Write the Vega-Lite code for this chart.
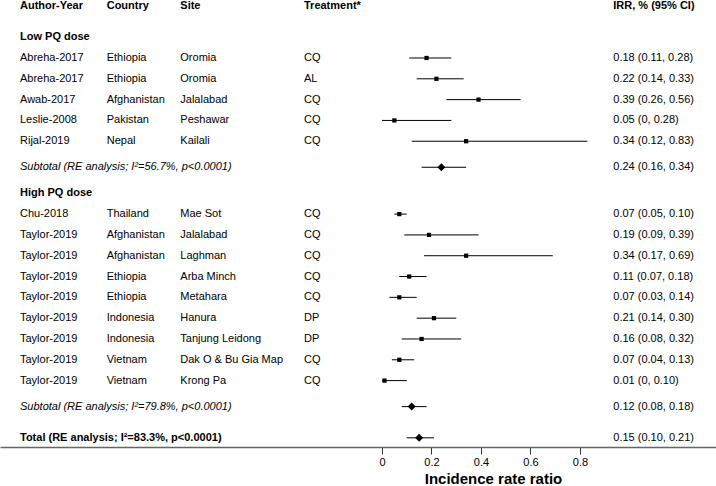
{
  "$schema": "https://vega.github.io/schema/vega-lite/v6.json",
  "width": 716,
  "height": 486,
  "autosize": {"type": "fit", "contains": "padding"},
  "padding": 0,
  "background": "white",
  "config": {
    "view": {"stroke": null},
    "font": "Liberation Sans",
    "text": {"font": "Liberation Sans", "fontSize": 11, "color": "black", "align": "left", "baseline": "middle"},
    "axisX": {
      "domainColor": "#666666",
      "domainWidth": 1.5,
      "tickColor": "#333333",
      "tickSize": 7,
      "tickWidth": 1,
      "grid": false,
      "labelFont": "Liberation Sans",
      "labelFontSize": 11,
      "labelColor": "black",
      "labelPadding": 2,
      "titleFont": "Liberation Sans",
      "titleFontSize": 15,
      "titleFontWeight": "bold",
      "titleColor": "black",
      "titlePadding": 4
    }
  },
  "data": {
    "values": [
      {"id": "lowhead", "kind": "group", "author": "Low PQ dose"},
      {"id": "r1", "kind": "study", "author": "Abreha-2017", "country": "Ethiopia", "site": "Oromia", "trt": "CQ", "est": 0.18, "lo": 0.11, "hi": 0.28, "ci": "0.18 (0.11, 0.28)"},
      {"id": "r2", "kind": "study", "author": "Abreha-2017", "country": "Ethiopia", "site": "Oromia", "trt": "AL", "est": 0.22, "lo": 0.14, "hi": 0.33, "ci": "0.22 (0.14, 0.33)"},
      {"id": "r3", "kind": "study", "author": "Awab-2017", "country": "Afghanistan", "site": "Jalalabad", "trt": "CQ", "est": 0.39, "lo": 0.26, "hi": 0.56, "ci": "0.39 (0.26, 0.56)"},
      {"id": "r4", "kind": "study", "author": "Leslie-2008", "country": "Pakistan", "site": "Peshawar", "trt": "CQ", "est": 0.05, "lo": 0, "hi": 0.28, "ci": "0.05 (0, 0.28)"},
      {"id": "r5", "kind": "study", "author": "Rijal-2019", "country": "Nepal", "site": "Kailali", "trt": "CQ", "est": 0.34, "lo": 0.12, "hi": 0.83, "ci": "0.34 (0.12, 0.83)"},
      {"id": "sub1", "kind": "subtotal", "author": "Subtotal (RE analysis; I²=56.7%, p<0.0001)", "est": 0.24, "lo": 0.16, "hi": 0.34, "ci": "0.24 (0.16, 0.34)"},
      {"id": "highhead", "kind": "group", "author": "High PQ dose"},
      {"id": "r6", "kind": "study", "author": "Chu-2018", "country": "Thailand", "site": "Mae Sot", "trt": "CQ", "est": 0.07, "lo": 0.05, "hi": 0.10, "ci": "0.07 (0.05, 0.10)"},
      {"id": "r7", "kind": "study", "author": "Taylor-2019", "country": "Afghanistan", "site": "Jalalabad", "trt": "CQ", "est": 0.19, "lo": 0.09, "hi": 0.39, "ci": "0.19 (0.09, 0.39)"},
      {"id": "r8", "kind": "study", "author": "Taylor-2019", "country": "Afghanistan", "site": "Laghman", "trt": "CQ", "est": 0.34, "lo": 0.17, "hi": 0.69, "ci": "0.34 (0.17, 0.69)"},
      {"id": "r9", "kind": "study", "author": "Taylor-2019", "country": "Ethiopia", "site": "Arba Minch", "trt": "CQ", "est": 0.11, "lo": 0.07, "hi": 0.18, "ci": "0.11 (0.07, 0.18)"},
      {"id": "r10", "kind": "study", "author": "Taylor-2019", "country": "Ethiopia", "site": "Metahara", "trt": "CQ", "est": 0.07, "lo": 0.03, "hi": 0.14, "ci": "0.07 (0.03, 0.14)"},
      {"id": "r11", "kind": "study", "author": "Taylor-2019", "country": "Indonesia", "site": "Hanura", "trt": "DP", "est": 0.21, "lo": 0.14, "hi": 0.30, "ci": "0.21 (0.14, 0.30)"},
      {"id": "r12", "kind": "study", "author": "Taylor-2019", "country": "Indonesia", "site": "Tanjung Leidong", "trt": "DP", "est": 0.16, "lo": 0.08, "hi": 0.32, "ci": "0.16 (0.08, 0.32)"},
      {"id": "r13", "kind": "study", "author": "Taylor-2019", "country": "Vietnam", "site": "Dak O & Bu Gia Map", "trt": "CQ", "est": 0.07, "lo": 0.04, "hi": 0.13, "ci": "0.07 (0.04, 0.13)"},
      {"id": "r14", "kind": "study", "author": "Taylor-2019", "country": "Vietnam", "site": "Krong Pa", "trt": "CQ", "est": 0.01, "lo": 0, "hi": 0.10, "ci": "0.01 (0, 0.10)"},
      {"id": "sub2", "kind": "subtotal", "author": "Subtotal (RE analysis; I²=79.8%, p<0.0001)", "est": 0.12, "lo": 0.08, "hi": 0.18, "ci": "0.12 (0.08, 0.18)"},
      {"id": "total", "kind": "total", "author": "Total (RE analysis; I²=83.3%, p<0.0001)", "est": 0.15, "lo": 0.10, "hi": 0.21, "ci": "0.15 (0.10, 0.21)"}
    ]
  },
  "encoding": {
    "y": {
      "field": "id",
      "type": "nominal",
      "axis": null,
      "scale": {
        "type": "point",
        "padding": 0.76,
        "domain": ["header", "s1", "s2", "s3", "s4", "s5", "lowhead", "s7", "s8", "s9", "r1", "s11", "s12", "s13", "r2", "s15", "s16", "s17", "r3", "s19", "s20", "s21", "r4", "s23", "s24", "s25", "r5", "s27", "s28", "s29", "s30", "sub1", "s32", "s33", "s34", "s35", "highhead", "s37", "s38", "s39", "r6", "s41", "s42", "s43", "r7", "s45", "s46", "s47", "r8", "s49", "s50", "s51", "r9", "s53", "s54", "s55", "r10", "s57", "s58", "s59", "r11", "s61", "s62", "s63", "r12", "s65", "s66", "s67", "r13", "s69", "s70", "s71", "r14", "s73", "s74", "s75", "s76", "sub2", "s78", "s79", "s80", "s81", "s82", "total", "s84"]
      }
    }
  },
  "layer": [
    {
      "transform": [{"filter": "datum.lo != null"}],
      "mark": {"type": "rule", "color": "black", "strokeWidth": 1},
      "encoding": {
        "x": {
          "field": "lo",
          "type": "quantitative",
          "title": "Incidence rate ratio",
          "scale": {"domain": [-1.5434, 1.3495], "nice": false, "zero": false},
          "axis": {"values": [0, 0.2, 0.4, 0.6, 0.8], "format": "~g", "titleX": 493, "titleAlign": "center", "titleAnchor": null}
        },
        "x2": {"field": "hi"}
      }
    },
    {
      "data": {"values": [{"id": "header", "author": "Author-Year", "country": "Country", "site": "Site", "trt": "Treatment*", "ci": "IRR, % (95% CI)"}]},
      "layer": [
        {"mark": {"type": "text", "fontWeight": "bold"}, "encoding": {"x": {"datum": -1.4626, "type": "quantitative"}, "text": {"field": "author"}}},
        {"mark": {"type": "text", "fontWeight": "bold"}, "encoding": {"x": {"datum": -1.1123, "type": "quantitative"}, "text": {"field": "country"}}},
        {"mark": {"type": "text", "fontWeight": "bold"}, "encoding": {"x": {"datum": -0.8149, "type": "quantitative"}, "text": {"field": "site"}}},
        {"mark": {"type": "text", "fontWeight": "bold"}, "encoding": {"x": {"datum": -0.3152, "type": "quantitative"}, "text": {"field": "trt"}}},
        {"mark": {"type": "text", "fontWeight": "bold"}, "encoding": {"x": {"datum": 0.9345, "type": "quantitative"}, "text": {"field": "ci"}}}
      ]
    },
    {
      "transform": [{"filter": "datum.kind === 'group'"}],
      "mark": {"type": "text", "fontWeight": "bold"},
      "encoding": {"x": {"datum": -1.4626, "type": "quantitative"}, "text": {"field": "author"}}
    },
    {
      "transform": [{"filter": "datum.kind === 'study'"}],
      "mark": {"type": "text"},
      "encoding": {"x": {"datum": -1.4626, "type": "quantitative"}, "text": {"field": "author"}}
    },
    {
      "transform": [{"filter": "datum.kind === 'study'"}],
      "mark": {"type": "text"},
      "encoding": {"x": {"datum": -1.1123, "type": "quantitative"}, "text": {"field": "country"}}
    },
    {
      "transform": [{"filter": "datum.kind === 'study'"}],
      "mark": {"type": "text"},
      "encoding": {"x": {"datum": -0.8149, "type": "quantitative"}, "text": {"field": "site"}}
    },
    {
      "transform": [{"filter": "datum.kind === 'study'"}],
      "mark": {"type": "text"},
      "encoding": {"x": {"datum": -0.3152, "type": "quantitative"}, "text": {"field": "trt"}}
    },
    {
      "transform": [{"filter": "datum.kind === 'subtotal'"}],
      "mark": {"type": "text", "fontStyle": "italic"},
      "encoding": {"x": {"datum": -1.4626, "type": "quantitative"}, "text": {"field": "author"}}
    },
    {
      "transform": [{"filter": "datum.kind === 'total'"}],
      "mark": {"type": "text", "fontWeight": "bold"},
      "encoding": {"x": {"datum": -1.4626, "type": "quantitative"}, "text": {"field": "author"}}
    },
    {
      "transform": [{"filter": "datum.ci != null"}],
      "mark": {"type": "text"},
      "encoding": {"x": {"datum": 0.9345, "type": "quantitative"}, "text": {"field": "ci"}}
    },
    {
      "transform": [{"filter": "datum.kind === 'study'"}],
      "mark": {"type": "point", "shape": "square", "filled": true, "color": "black", "size": 18, "opacity": 1},
      "encoding": {"x": {"field": "est", "type": "quantitative", "title": "Incidence rate ratio"}}
    },
    {
      "transform": [{"filter": "datum.kind === 'subtotal' || datum.kind === 'total'"}],
      "mark": {"type": "point", "shape": "diamond", "filled": true, "color": "black", "size": 64, "opacity": 1},
      "encoding": {"x": {"field": "est", "type": "quantitative", "title": "Incidence rate ratio"}}
    }
  ]
}
